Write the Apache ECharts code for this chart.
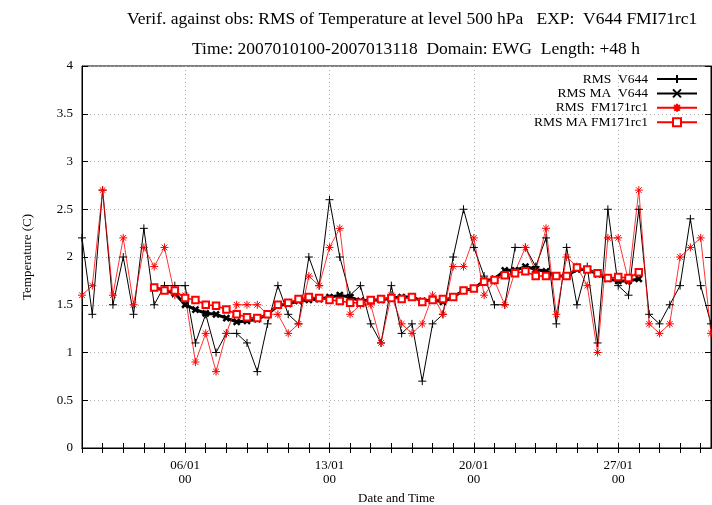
<!DOCTYPE html>
<html>
<head>
<meta charset="utf-8">
<script src="https://cdn.jsdelivr.net/npm/echarts@6/dist/echarts.min.js"></script>
<style>
html,body{margin:0;padding:0;background:#fff;}
#c{width:712px;height:505px;}
</style>
</head>
<body>
<div id="c"></div>
<script>
// 12-hourly verification times, 2007-01-01 00 .. 2007-01-31 12
const categories = [];
for (let d = 1; d <= 31; d++) {
  for (const h of ['00', '12']) {
    categories.push((d < 10 ? '0' + d : '' + d) + '/01\n' + h);
  }
}
const majorLabelIdx = [10, 24, 38, 52]; // 06/01 00, 13/01 00, 20/01 00, 27/01 00

const rmsV644 = [2.2,1.4,2.7,1.5,2.0,1.4,2.3,1.5,1.7,1.7,
  1.7,1.1,1.4,1.0,1.2,1.2,1.1,0.8,1.3,1.7,
  1.4,1.3,2.0,1.7,2.6,2.0,1.6,1.7,1.3,1.1,
  1.7,1.2,1.3,0.7,1.3,1.4,2.0,2.5,2.1,1.8,
  1.5,1.5,2.1,2.1,1.9,2.2,1.3,2.1,1.5,1.9,
  1.1,2.5,1.7,1.6,2.5,1.4,1.3,1.5,1.7,2.4,
  1.7,1.3];

const rmsMaV644 = [null,null,null,null,null,null,null,1.68,1.65,1.62,
  1.50,1.45,1.41,1.40,1.36,1.32,1.33,1.35,1.40,1.49,
  1.51,1.54,1.55,1.56,1.58,1.60,1.58,1.54,1.55,1.55,
  1.57,1.58,1.58,1.54,1.55,1.53,1.58,1.65,1.67,1.75,
  1.77,1.86,1.86,1.90,1.87,1.85,1.80,1.80,1.87,1.87,
  1.82,1.77,1.75,1.75,1.77,null,null,null,null,null,
  null,null];

const rmsFM = [1.6,1.7,2.7,1.6,2.2,1.5,2.1,1.9,2.1,1.6,
  1.6,0.9,1.2,0.8,1.2,1.5,1.5,1.5,1.4,1.4,
  1.2,1.3,1.8,1.7,2.1,2.3,1.4,1.5,1.5,1.1,
  1.6,1.3,1.2,1.3,1.6,1.4,1.9,1.9,2.2,1.6,
  1.75,1.5,1.85,2.1,1.85,2.3,1.4,2.0,1.9,1.7,
  1.0,2.2,2.2,1.75,2.7,1.3,1.2,1.3,2.0,2.1,
  2.2,1.2];

const rmsMaFM = [null,null,null,null,null,null,null,1.68,1.65,1.65,
  1.57,1.55,1.50,1.49,1.45,1.40,1.37,1.36,1.40,1.50,
  1.52,1.56,1.58,1.57,1.55,1.54,1.52,1.52,1.55,1.56,
  1.57,1.56,1.58,1.53,1.55,1.56,1.58,1.65,1.67,1.74,
  1.76,1.81,1.83,1.85,1.80,1.80,1.80,1.80,1.89,1.87,
  1.83,1.78,1.79,1.78,1.84,null,null,null,null,null,
  null,null];

const seriesNames = ['RMS  V644', 'RMS MA  V644', 'RMS  FM171rc1', 'RMS MA FM171rc1'];
const titleLine1 = 'Verif. against obs: RMS of Temperature at level 500 hPa   EXP:  V644 FMI71rc1';
const titleLine2 = 'Time: 2007010100-2007013118  Domain: EWG  Length: +48 h';

const FONT = 'Liberation Serif';
const chart = echarts.init(document.getElementById('c'));

const PLUS = 'path://M0,5L10,5M5,0L5,10';
const CROSS = 'path://M0,0L10,10M10,0L0,10';
const STAR = 'path://M0,5L10,5M5,0L5,10M1.5,1.5L8.5,8.5M8.5,1.5L1.5,8.5';

const gridLine = {show: true, lineStyle: {color: '#b0b0b0', type: [1, 3], width: 1}};

chart.setOption({
  backgroundColor: '#fff',
  animation: false,
  title: [
    {text: titleLine1, left: 122, top: 5, textStyle: {fontFamily: FONT, fontSize: 17.5, fontWeight: 'normal', color: '#000'}},
    {text: titleLine2, left: 187, top: 35, textStyle: {fontFamily: FONT, fontSize: 17.5, fontWeight: 'normal', color: '#000'}}
  ],
  grid: {left: 82, right: 1, top: 66, bottom: 57, outerBoundsMode: 'none', containLabel: false,
    show: true, borderColor: '#000', borderWidth: 1, backgroundColor: 'transparent'},
  legend: {
    orient: 'vertical', right: 14, top: 72, align: 'right', padding: 0,
    itemWidth: 40, itemHeight: 10, itemGap: 0.4,
    textStyle: {fontFamily: FONT, fontSize: 13.5, lineHeight: 14, color: '#000', padding: [0, 4, 0, 0]},
    data: seriesNames
  },
  xAxis: [
    {
      type: 'category', data: categories, boundaryGap: false, position: 'bottom',
      name: 'Date and Time', nameLocation: 'middle', nameGap: 42,
      nameTextStyle: {fontFamily: FONT, fontSize: 13, color: '#000'},
      axisLine: {show: true, lineStyle: {color: '#000', width: 1}},
      axisTick: {show: true, inside: true, length: 5, interval: (i) => i % 2 === 0, lineStyle: {color: '#000'}},
      axisLabel: {interval: (i) => majorLabelIdx.indexOf(i) >= 0, fontFamily: FONT, fontSize: 13, color: '#000', lineHeight: 14, margin: 11},
      splitLine: {show: true, interval: (i) => majorLabelIdx.indexOf(i) >= 0, lineStyle: {color: '#b0b0b0', type: [1, 3], width: 1}}
    },
    {
      type: 'category', data: categories, boundaryGap: false, position: 'top',
      axisLine: {show: true, lineStyle: {color: '#000', width: 1}},
      axisTick: {show: true, inside: true, length: 5, interval: (i) => i % 2 === 0, lineStyle: {color: '#000'}},
      axisLabel: {show: false}, splitLine: {show: false}
    }
  ],
  yAxis: [
    {
      type: 'value', min: 0, max: 4, interval: 0.5, position: 'left',
      name: 'Temperature (C)', nameLocation: 'middle', nameGap: 48, nameRotate: 90,
      nameTextStyle: {fontFamily: FONT, fontSize: 13, color: '#000'},
      axisLine: {show: true, lineStyle: {color: '#000', width: 1}},
      axisTick: {show: true, inside: true, length: 6, lineStyle: {color: '#000'}},
      axisLabel: {fontFamily: FONT, fontSize: 13, color: '#000', margin: 9},
      splitLine: gridLine
    },
    {
      type: 'value', min: 0, max: 4, interval: 0.5, position: 'right',
      axisLine: {show: true, lineStyle: {color: '#000', width: 1}},
      axisTick: {show: true, inside: true, length: 6, lineStyle: {color: '#000'}},
      axisLabel: {show: false}, splitLine: {show: false}
    }
  ],
  series: [
    {
      name: seriesNames[0], type: 'line', data: rmsV644,
      symbol: PLUS, symbolSize: 8, showAllSymbol: true,
      lineStyle: {color: '#000', width: 1},
      itemStyle: {color: '#000', borderColor: '#000', borderWidth: 1}
    },
    {
      name: seriesNames[1], type: 'line', data: rmsMaV644,
      symbol: CROSS, symbolSize: 6, showAllSymbol: true,
      lineStyle: {color: '#000', width: 3},
      itemStyle: {color: '#000', borderColor: '#000', borderWidth: 2.5}
    },
    {
      name: seriesNames[2], type: 'line', data: rmsFM,
      symbol: STAR, symbolSize: 8, showAllSymbol: true,
      lineStyle: {color: '#ff0000', width: 0.8},
      itemStyle: {color: '#ff0000', borderColor: '#ff0000', borderWidth: 1}
    },
    {
      name: seriesNames[3], type: 'line', data: rmsMaFM,
      symbol: 'emptyRect', symbolSize: 6.5, showAllSymbol: true,
      lineStyle: {color: '#ff0000', width: 1.5},
      itemStyle: {color: '#ff0000', borderColor: '#ff0000', borderWidth: 1.3}
    }
  ]
});
</script>
</body>
</html>
